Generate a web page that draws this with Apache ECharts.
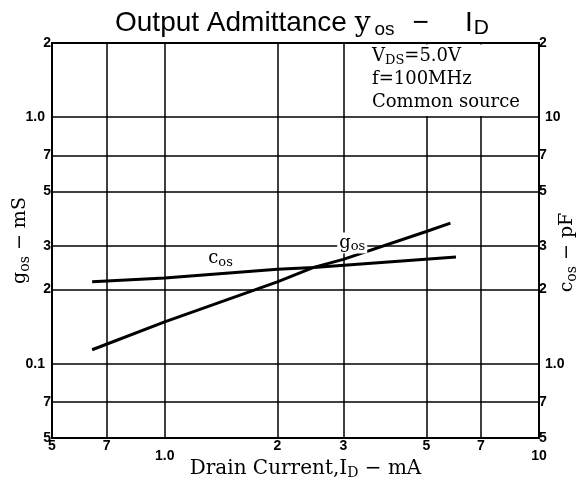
<!DOCTYPE html>
<html>
<head>
<meta charset="utf-8">
<script src="https://cdn.jsdelivr.net/npm/echarts@6/dist/echarts.min.js"></script>
<style>
  html, body { margin: 0; padding: 0; background: #fff; }
  #chart { width: 584px; height: 488px; }
</style>
</head>
<body>
<div id="chart"></div>
<script>
// drain current (mA) and output conductance g_os (mS)
const gosCurrent = [0.64, 1.0, 2.0, 2.5, 3.0, 5.0, 5.8];
const gosValues = [0.114, 0.148, 0.215, 0.246, 0.265, 0.344, 0.372];
// drain current (mA) and output capacitance c_os (pF)
const cosCurrent = [0.64, 1.0, 2.0, 2.5, 6.0];
const cosValues = [2.15, 2.23, 2.42, 2.46, 2.71];

const xTickValues = [0.5, 0.7, 1, 2, 3, 5, 7, 10];
const xTickLabels = ['5', '7', '1.0', '2', '3', '5', '7', '10'];
const gTickValues = [0.05, 0.07, 0.1, 0.2, 0.3, 0.5, 0.7, 1, 2];
const gTickLabels = ['5', '7', '0.1', '2', '3', '5', '7', '1.0', '2'];
const cTickValues = [0.5, 0.7, 1, 2, 3, 5, 7, 10, 20];
const cTickLabels = ['5', '7', '1.0', '2', '3', '5', '7', '10', '2'];

const lg = Math.log10;
const decades = ['1.0', '0.1', '10'];

// axes are linear in log10 space, labels show the real values
function labelFor(vals, labels, v) {
	for (let i = 0; i < vals.length; i++) {
		if (Math.abs(lg(vals[i]) - v) < 1e-6) {
			const t = labels[i];
			return decades.indexOf(t) >= 0 ? '{d|' + t + '}' : '{m|' + t + '}';
		}
	}
	return '';
}

const tickFont = { fontFamily: 'Liberation Sans', fontWeight: 'bold', fontSize: 14, color: '#000' };
const serif = 'DejaVu Serif';

// rich styles for "x sub y" style names
function nameRich(size) {
	return {
		n: { fontFamily: serif, fontSize: size, color: '#000' },
		s: { fontFamily: serif, fontSize: Math.round(size * 0.72), color: '#000', padding: [Math.round(size * 0.45), 0, 0, 0] }
	};
}

const chart = echarts.init(document.getElementById('chart'));

chart.setOption({
	animation: false,
	title: {
		left: 110,
		top: 3,
		text: '{a|Output Admittance }{y|y}{s|os}{m|−}{a|I}{d|D}',
		textStyle: {
			fontWeight: 'normal',
			rich: {
				a: { fontFamily: 'Liberation Sans', fontWeight: 'normal', fontSize: 28, color: '#000' },
				y: { fontFamily: serif, fontWeight: 'normal', fontSize: 28, color: '#000' },
				s: { fontFamily: 'Liberation Sans', fontWeight: 'normal', fontSize: 19, color: '#000', padding: [12, 0, 0, 4] },
				m: { fontFamily: 'Liberation Sans', fontWeight: 'normal', fontSize: 28, color: '#000', padding: [0, 36, 0, 18] },
				d: { fontFamily: 'Liberation Sans', fontWeight: 'normal', fontSize: 21, color: '#000', padding: [10, 0, 0, 1] }
			}
		}
	},
	grid: {
		left: 52, right: 45, top: 43, bottom: 50,
		outerBoundsMode: 'none',
		containLabel: false,
		show: true, borderColor: '#000', borderWidth: 2
	},
	xAxis: {
		type: 'value',
		min: lg(0.5),
		max: 1,
		name: '{n|Drain Current,I}{s|D}{n| − mA}',
		nameLocation: 'middle',
		nameGap: 19,
		nameMoveOverlap: false,
		nameTextStyle: { padding: [0, 0, 0, 20], rich: nameRich(20) },
		axisLine: { show: false },
		axisTick: { show: false, customValues: xTickValues.map(lg) },
		axisLabel: {
			customValues: xTickValues.map(lg),
			margin: 1,
			formatter: v => labelFor(xTickValues, xTickLabels, v),
			rich: {
				d: Object.assign({ padding: [10, 0, 0, 0] }, tickFont),
				m: Object.assign({}, tickFont)
			}
		},
		splitLine: { show: true, lineStyle: { color: '#000', width: 1.5 } }
	},
	yAxis: [
		{
			type: 'value',
			min: lg(0.05),
			max: lg(2),
			name: '{n|g}{s|os}{n| − mS}',
			nameLocation: 'middle',
			nameRotate: 90,
			nameGap: 20,
			nameMoveOverlap: false,
			nameTextStyle: { rich: nameRich(19) },
			axisLine: { show: false },
			axisTick: { show: false, customValues: gTickValues.map(lg) },
			axisLabel: {
				customValues: gTickValues.map(lg),
				margin: 1,
				formatter: v => labelFor(gTickValues, gTickLabels, v),
				rich: {
					d: Object.assign({ padding: [0, 6, 0, 0] }, tickFont),
					m: Object.assign({}, tickFont)
				}
			},
			splitLine: { show: true, lineStyle: { color: '#000', width: 1.5 } }
		},
		{
			type: 'value',
			position: 'right',
			min: lg(0.5),
			max: lg(20),
			name: '{n|c}{s|os}{n| − pF}',
			nameLocation: 'middle',
			nameRotate: 90,
			nameGap: 17,
			nameMoveOverlap: false,
			nameTextStyle: { padding: [0, 24, 0, 0], rich: nameRich(19) },
			axisLine: { show: false },
			axisTick: { show: false, customValues: cTickValues.map(lg) },
			axisLabel: {
				customValues: cTickValues.map(lg),
				margin: 0,
				formatter: v => labelFor(cTickValues, cTickLabels, v),
				rich: {
					d: Object.assign({ padding: [0, 0, 0, 6] }, tickFont),
					m: Object.assign({}, tickFont)
				}
			},
			splitLine: { show: false }
		}
	],
	graphic: [
		{
			type: 'rect',
			z: 10,
			shape: { x: 345, y: 44.5, width: 192.5, height: 71.5 },
			style: { fill: '#fff' }
		},
		{
			type: 'text',
			z: 11,
			left: 372,
			top: 46,
			style: {
				text: '{n|V}{s|DS}{n|=5.0V}\n{n|f=100MHz}\n{n|Common source}',
				rich: {
					n: { fontFamily: serif, fontSize: 18, lineHeight: 23, fill: '#000' },
					s: { fontFamily: serif, fontSize: 13, lineHeight: 23, fill: '#000', padding: [8, 0, 0, 0] }
				}
			}
		}
	],
	series: [
		{
			name: 'gos',
			type: 'line',
			yAxisIndex: 0,
			symbol: 'none',
			lineStyle: { color: '#000', width: 3 },
			data: gosCurrent.map((x, i) => [lg(x), lg(gosValues[i])]),
			markPoint: {
				symbol: 'rect',
				symbolSize: 0,
				data: [{ coord: [lg(3.17), lg(0.309)] }],
				label: {
					show: true,
					formatter: '{n|g}{s|os}',
					backgroundColor: '#fff',
					padding: [0, 2, 0, 2],
					rich: nameRich(18)
				}
			}
		},
		{
			name: 'cos',
			type: 'line',
			yAxisIndex: 1,
			symbol: 'none',
			lineStyle: { color: '#000', width: 3 },
			data: cosCurrent.map((x, i) => [lg(x), lg(cosValues[i])]),
			markPoint: {
				symbol: 'rect',
				symbolSize: 0,
				data: [{ coord: [lg(1.41), lg(2.68)] }],
				label: {
					show: true,
					formatter: '{n|c}{s|os}',
					rich: nameRich(18)
				}
			}
		}
	]
});
</script>
</body>
</html>
